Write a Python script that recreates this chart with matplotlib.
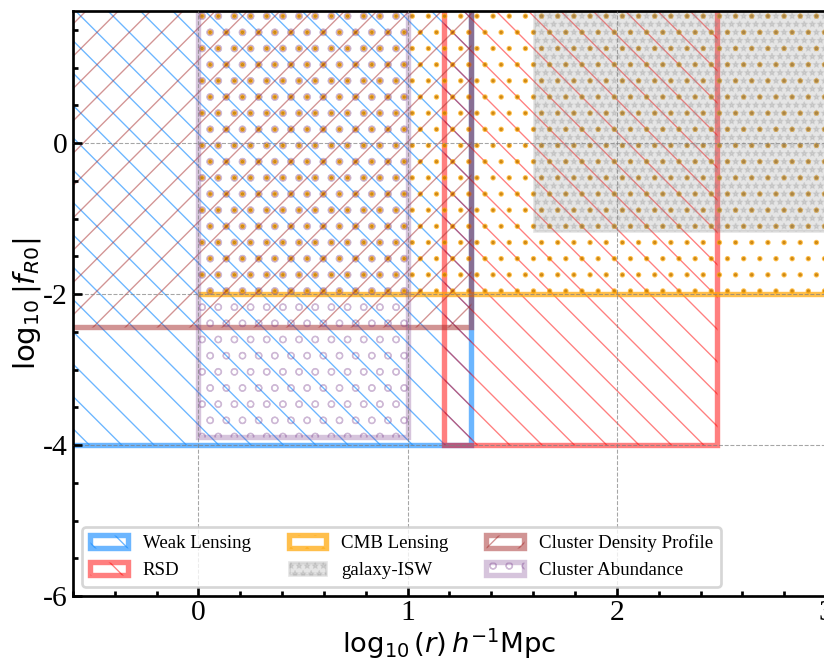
import matplotlib
matplotlib.use('Agg')
import matplotlib.pyplot as plt
from matplotlib.patches import Rectangle
from matplotlib.ticker import MultipleLocator

# ---------------- data (log10 r [Mpc/h], log10 |f_R0|) ----------------
probes = ['Weak Lensing', 'RSD', 'CMB Lensing', 'galaxy-ISW',
          'Cluster Density Profile', 'Cluster Abundance']
r_lo = [-1.0, 1.176, 0.0, 1.602, -1.0, 0.0]
r_hi = [1.301, 2.477, 3.5, 3.5, 1.301, 1.0]
f_lo = [-4.0, -4.0, -2.0, -1.17, -2.44, -3.89]
f_hi = [2.5, 2.5, 2.5, 2.5, 2.5, 2.5]

x_ticks = [0, 1, 2, 3]
x_ticklabels = ['0', '1', '2', '3']
y_ticks = [-6, -4, -2, 0]
y_ticklabels = ['-6', '-4', '-2', '0']

# ---------------- styles ----------------
colors = ['dodgerblue', 'red', 'orange', 'gray', 'brown', '#783c8c']
alphas = [0.65, 0.5, 0.7, 0.2, 0.5, 0.3]
hatches = ['\\\\', '\\\\', '..', '****', '//', 'oo']
hatch_lw = [0.5, 0.5, 0.8, 0.5, 0.5, 0.5]
filled = [False, False, False, True, False, False]
edge_lw = [2.0, 2.0, 2.0, 1.0, 2.0, 2.0]
bottom_only = [False, False, True, False, False, False]
dot_core = [False, False, True, False, False, False]

DPI = 194
plt.rcParams['hatch.linewidth'] = 0.5
plt.rcParams['mathtext.fontset'] = 'dejavusans'
plt.rcParams['axes.unicode_minus'] = False


def set_hlw(p, lw):
    f = getattr(p, 'set_hatch_linewidth', None)
    if f is not None:
        f(lw)


fig = plt.figure(figsize=(824 / DPI, 661 / DPI), dpi=DPI)
ax = fig.add_axes([73 / 824, 65 / 661, 753 / 824, 585 / 661])

handles = []
for i, name in enumerate(probes):
    kw = dict(facecolor=colors[i] if filled[i] else 'none',
              edgecolor=colors[i], alpha=alphas[i], hatch=hatches[i])
    rect = Rectangle((r_lo[i], f_lo[i]), r_hi[i] - r_lo[i], f_hi[i] - f_lo[i],
                     linewidth=0 if bottom_only[i] else edge_lw[i], zorder=1, **kw)
    set_hlw(rect, hatch_lw[i])
    ax.add_patch(rect)
    if dot_core[i]:
        core = Rectangle((r_lo[i], f_lo[i]), r_hi[i] - r_lo[i], f_hi[i] - f_lo[i],
                         facecolor='none', edgecolor='#6b3f0a', alpha=0.35,
                         hatch=hatches[i], linewidth=0, zorder=1)
        set_hlw(core, 0.0)
        ax.add_patch(core)
    if bottom_only[i]:
        ax.hlines(f_lo[i], r_lo[i], r_hi[i], colors=colors[i], alpha=alphas[i],
                  linewidth=edge_lw[i], zorder=1)
    proxy = Rectangle((0, 0), 1, 1, linewidth=edge_lw[i], label=name, **kw)
    set_hlw(proxy, hatch_lw[i])
    handles.append(proxy)

ax.set_xlim(-0.6, 3.0)
ax.set_ylim(-6, 1.75)
ax.set_xticks(x_ticks)
ax.set_xticklabels(x_ticklabels)
ax.set_yticks(y_ticks)
ax.set_yticklabels(y_ticklabels)
ax.xaxis.set_minor_locator(MultipleLocator(0.2))
ax.yaxis.set_minor_locator(MultipleLocator(0.5))
ax.tick_params(which='both', direction='in', top=False, right=False, width=1.0)
ax.tick_params(which='major', length=3.5, labelsize=11)
ax.tick_params(which='minor', length=2.0)
ax.tick_params(axis='x', which='major', pad=1.5)
ax.tick_params(axis='y', which='major', pad=2.0)
for lab in ax.get_xticklabels() + ax.get_yticklabels():
    lab.set_fontfamily('Liberation Serif')
for sp in ax.spines.values():
    sp.set_linewidth(1.0)

ax.set_axisbelow(False)
ax.grid(True, which='major', linestyle='--', color='gray', linewidth=0.4, alpha=0.7)

ax.set_xlabel(r'$\log_{10}(r)\,h^{-1}$Mpc', fontsize=10.2, family='DejaVu Sans',
              labelpad=0)
ax.set_ylabel(r'$\log_{10}|f_{R0}|$', fontsize=10.8, family='DejaVu Sans',
              labelpad=0)

ax.legend(handles=handles, loc='lower left', ncol=3,
          prop={'family': 'Liberation Serif', 'size': 7})

fig.savefig('out.png', dpi=DPI)
